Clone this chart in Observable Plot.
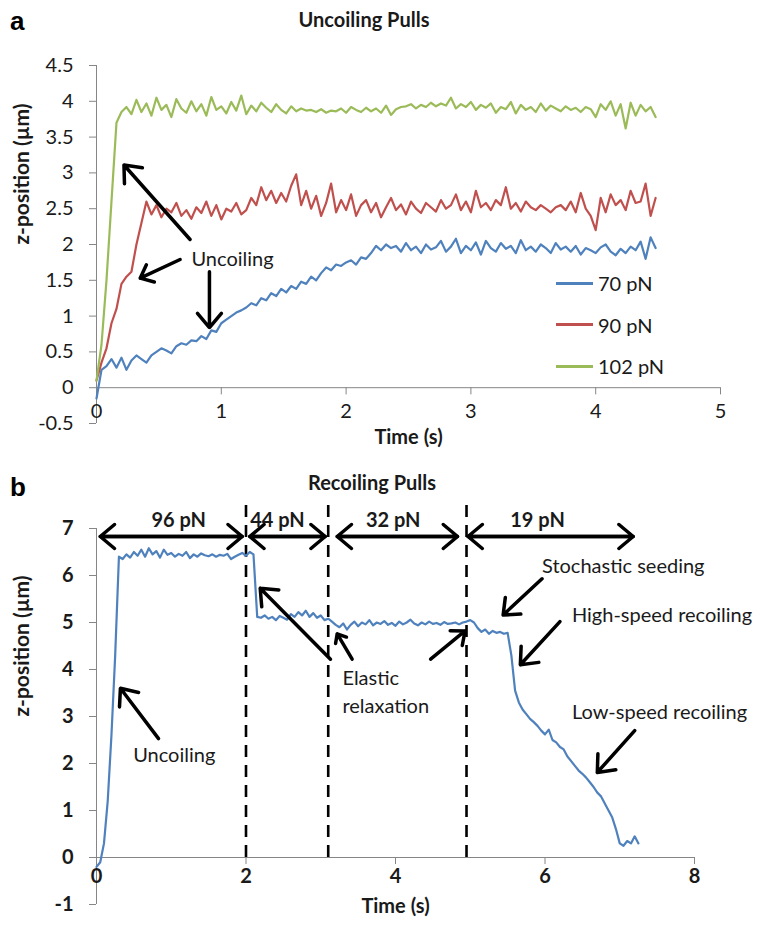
<!DOCTYPE html>
<html><head><meta charset="utf-8">
<script src="https://cdn.jsdelivr.net/npm/d3@7"></script>
<script src="https://cdn.jsdelivr.net/npm/@observablehq/plot@0.6"></script>
<style>
body{margin:0;background:#fff;}
#wrap{position:relative;width:764px;height:932px;background:#fff;overflow:hidden;}
.panel{position:absolute;left:0;}
.lab{position:absolute;font-family:"Liberation Sans",Arial,sans-serif;font-weight:bold;font-size:26px;color:#000;line-height:1;}
.ttl{position:absolute;font-family:Lato,sans-serif;font-weight:bold;font-size:20px;color:#1a1a1a;transform:translate(-50%,-50%);white-space:nowrap;}
.leg{position:absolute;display:flex;align-items:center;font-family:Lato,sans-serif;font-size:20px;color:#1a1a1a;height:24px;}
.leg span.sw{display:inline-block;width:37px;height:3px;margin-right:5px;}
</style></head><body>
<div id="wrap">
  <div id="pa" class="panel" style="top:0"></div>
  <div id="pb" class="panel" style="top:460px"></div>
  <div class="lab" style="left:10px;top:8px">a</div>
  <div class="ttl" style="left:364px;top:19px">Uncoiling Pulls</div>
  <div class="lab" style="left:10px;top:474px">b</div>
  <div class="ttl" style="left:372px;top:482px">Recoiling Pulls</div>
  <div id="legendA"></div>
</div>
<script>
// ---------------- Panel a data ----------------
const seriesNamesA = ["70 pN", "90 pN", "102 pN"];
const seriesColorsA = ["#4F81BD", "#C0504D", "#9BBB59"];
const dtA = 0.04; // sampling interval (s)
const z70 = [
 -0.15,0.25,0.30,0.40,0.28,0.42,0.25,0.38,0.45,0.40,
 0.35,0.45,0.50,0.55,0.52,0.48,0.58,0.62,0.60,0.66,
 0.65,0.72,0.68,0.80,0.78,0.90,0.95,1.00,1.05,1.08,
 1.12,1.18,1.15,1.25,1.22,1.32,1.28,1.38,1.33,1.42,
 1.38,1.48,1.45,1.55,1.50,1.60,1.68,1.64,1.72,1.70,
 1.75,1.78,1.72,1.82,1.80,1.88,1.98,1.92,2.00,1.95,
 1.98,1.90,2.02,1.92,1.97,1.88,2.00,1.93,1.96,2.05,
 1.90,1.97,2.08,1.88,1.98,1.92,2.03,1.86,2.05,1.95,
 1.90,2.02,1.94,1.98,1.88,2.06,1.92,1.97,1.90,2.00,
 1.95,1.88,2.02,1.93,1.97,1.90,1.98,1.86,1.95,1.92,
 1.88,1.96,2.00,1.90,1.85,1.94,1.88,1.97,1.92,2.04,
 1.80,2.10,1.95];
const z90 = [
 0.10,0.35,0.55,0.90,1.10,1.45,1.55,1.62,2.00,2.30,
 2.60,2.42,2.55,2.38,2.50,2.45,2.58,2.40,2.48,2.36,
 2.52,2.44,2.60,2.40,2.55,2.35,2.50,2.46,2.58,2.42,
 2.48,2.65,2.55,2.80,2.62,2.75,2.58,2.72,2.60,2.82,
 2.98,2.55,2.75,2.50,2.68,2.40,2.58,2.85,2.45,2.62,
 2.48,2.70,2.40,2.55,2.62,2.45,2.58,2.38,2.52,2.65,
 2.48,2.56,2.42,2.60,2.50,2.44,2.58,2.52,2.46,2.62,
 2.50,2.55,2.70,2.48,2.60,2.45,2.75,2.52,2.58,2.48,
 2.62,2.55,2.80,2.50,2.58,2.46,2.60,2.52,2.48,2.55,
 2.50,2.45,2.52,2.55,2.48,2.60,2.45,2.72,2.50,2.40,
 2.20,2.65,2.45,2.70,2.55,2.62,2.48,2.75,2.58,2.60,
 2.85,2.40,2.65];
const z102 = [
 0.10,0.60,1.50,2.60,3.70,3.85,3.92,3.82,4.02,3.85,
 3.97,3.80,4.05,3.88,3.95,3.78,4.03,3.90,3.84,4.00,
 3.86,3.96,3.80,4.06,3.88,3.93,3.83,3.99,3.87,4.08,
 3.82,3.94,3.86,3.98,3.91,3.85,3.96,3.88,3.83,3.93,
 3.86,3.90,3.87,3.88,3.85,3.89,3.84,3.87,3.86,3.90,
 3.84,3.92,3.88,3.85,3.91,3.86,3.90,3.84,3.94,3.81,
 3.89,3.92,3.93,3.96,3.90,3.95,3.92,3.98,3.93,3.97,
 3.94,4.05,3.90,3.96,3.92,3.99,3.88,3.95,3.91,3.97,
 3.84,3.92,3.89,3.99,3.83,3.95,3.88,3.92,3.85,3.97,
 3.87,3.94,3.90,3.86,3.93,3.88,3.91,3.85,3.92,3.89,
 3.78,3.96,3.88,4.00,3.80,3.96,3.62,3.98,3.80,3.95,
 3.86,3.92,3.78];
const xTicksA = [0, 1, 2, 3, 4, 5];
const yTicksA = [-0.5, 0, 0.5, 1, 1.5, 2, 2.5, 3, 3.5, 4, 4.5];
const annotTextA = [{text: "Uncoiling", t: 1.09, z: 1.79}];
const annotArrowsA = [
  {t1: 0.75, z1: 2.07, t2: 0.22, z2: 3.11},
  {t1: 0.67, z1: 1.79, t2: 0.35, z2: 1.53},
  {t1: 0.905, z1: 1.62, t2: 0.905, z2: 0.84}
];

// ---------------- Panel b data ----------------
const dtB = 0.05;
const zRecoil = [
 -0.20,-0.10,0.30,1.20,2.60,4.30,6.40,
 6.35,6.45,6.38,6.50,6.42,6.55,6.40,6.58,6.45,6.52,
 6.38,6.55,6.44,6.48,6.40,6.46,6.42,6.50,6.37,6.45,
 6.40,6.47,6.43,6.41,6.45,6.40,6.44,6.42,6.46,6.35,
 6.40,6.44,6.48,6.42,6.50,
 6.45,5.12,
 5.10,5.15,5.08,5.12,5.05,5.14,5.10,5.06,5.18,5.12,
 5.22,5.15,5.25,5.12,5.20,5.10,5.15,5.05,5.08,
 5.02,4.95,4.90,4.98,4.85,4.95,5.02,4.92,5.00,4.96,
 5.05,4.94,5.00,4.97,5.03,4.95,4.99,4.93,5.02,4.96,
 5.00,5.06,4.98,4.94,5.00,4.96,5.02,4.97,4.99,4.95,
 5.01,4.97,4.98,5.00,4.96,5.00,5.02,
 5.05,5.00,4.88,4.80,4.85,4.76,4.82,4.78,4.80,4.76,4.78,
 4.30,3.55,3.30,3.15,3.05,2.95,2.88,2.80,2.70,2.62,
 2.72,2.50,2.45,2.35,2.30,2.15,2.05,1.95,1.85,1.78,
 1.70,1.60,1.50,1.38,1.30,1.15,1.00,0.85,0.60,0.30,
 0.25,0.35,0.30,0.45,0.30];
const xTicksB = [0, 2, 4, 6, 8];
const yTicksB = [-1, 0, 1, 2, 3, 4, 5, 6, 7];
const switchTimes = [2.0, 3.1, 4.95];
const forceSegments = [
  {label: "96 pN", t1: 0.05, t2: 1.95, tl: 1.10},
  {label: "44 pN", t1: 2.05, t2: 3.06, tl: 2.42},
  {label: "32 pN", t1: 3.22, t2: 4.83, tl: 3.97},
  {label: "19 pN", t1: 4.97, t2: 7.18, tl: 5.90}
];
const annotTextB = [
  {text: "Uncoiling", t: 1.04, z: 2.17, anchor: "middle"},
  {text: "Elastic", t: 3.29, z: 3.81, anchor: "start"},
  {text: "relaxation", t: 3.29, z: 3.21, anchor: "start"},
  {text: "Stochastic seeding", t: 5.96, z: 6.19, anchor: "start"},
  {text: "High-speed recoiling", t: 6.36, z: 5.15, anchor: "start"},
  {text: "Low-speed recoiling", t: 6.36, z: 3.09, anchor: "start"}
];
const annotArrowsB = [
  {t1: 0.83, z1: 2.53, t2: 0.32, z2: 3.60},
  {t1: 3.13, z1: 4.22, t2: 2.19, z2: 5.73},
  {t1: 3.42, z1: 4.22, t2: 3.22, z2: 4.76},
  {t1: 4.47, z1: 4.22, t2: 4.93, z2: 4.82},
  {t1: 5.96, z1: 5.93, t2: 5.44, z2: 5.16},
  {t1: 6.20, z1: 5.02, t2: 5.67, z2: 4.10},
  {t1: 7.20, z1: 2.70, t2: 6.70, z2: 1.81}
];

// ---------------- build ----------------
const gray = "#868686";
const ink = "#1a1a1a";
const rowsA = [z70, z90, z102].flatMap((arr, k) =>
  arr.map((z, i) => ({t: i * dtA, z, name: seriesNamesA[k]})));
const rowsB = zRecoil.map((z, i) => ({t: i * dtB, z}));

const baseStyle = {fontFamily: "Lato, sans-serif", fontSize: "20px", color: ink, background: "white", overflow: "visible"};
const arrowStyle = {stroke: "#000", strokeWidth: 3.5, headLength: 8, headAngle: 80};

const plotA = Plot.plot({
  width: 764, height: 460,
  marginTop: 65, marginBottom: 37, marginLeft: 96, marginRight: 44,
  style: baseStyle,
  x: {domain: [0, 5]},
  y: {domain: [-0.5, 4.5]},
  color: {domain: seriesNamesA, range: seriesColorsA},
  marks: [
    Plot.ruleX([0], {y1: -0.5, y2: 4.5, stroke: gray}),
    Plot.ruleY([0], {x1: 0, x2: 5, stroke: gray}),
    Plot.ruleX(xTicksA, {x: d => d, y1: 0, y2: -0.1, stroke: gray}),
    Plot.axisY(yTicksA, {anchor: "left", tickSize: 7, tickPadding: 16, stroke: gray, fill: ink, tickFormat: d => String(d), label: null}),
    Plot.axisX(xTicksA, {anchor: "bottom", tickSize: 0, tickPadding: -20, fill: ink, tickFormat: d => String(d), label: null}),
    Plot.text(["Time (s)"], {frameAnchor: "bottom", dy: 20, fontWeight: "bold", fill: ink}),
    Plot.text(["z-position (µm)"], {frameAnchor: "left", rotate: -90, dx: -74, fontWeight: "bold", fontSize: 21, fill: ink}),
    Plot.line(rowsA, {x: "t", y: "z", stroke: "name", z: "name", strokeWidth: 2.2}),
    Plot.arrow(annotArrowsA, {x1: "t1", y1: "z1", x2: "t2", y2: "z2", ...arrowStyle}),
    Plot.text(annotTextA, {x: "t", y: "z", text: "text", fill: ink, fontSize: 20})
  ]
});
document.getElementById("pa").appendChild(plotA);

// HTML legend for panel a
const legendA = document.getElementById("legendA");
seriesNamesA.forEach((n, i) => {
  const row = document.createElement("div");
  row.className = "leg";
  row.style.left = "556px";
  row.style.top = (271 + i * 41.5) + "px";
  const sw = document.createElement("span");
  sw.className = "sw";
  sw.style.background = seriesColorsA[i];
  row.appendChild(sw);
  row.appendChild(document.createTextNode(n));
  legendA.appendChild(row);
});

const plotB = Plot.plot({
  width: 764, height: 472,
  marginTop: 68, marginBottom: 28, marginLeft: 96, marginRight: 70,
  style: baseStyle,
  x: {domain: [0, 8]},
  y: {domain: [-1, 7]},
  marks: [
    Plot.ruleX([0], {y1: -1, y2: 7, stroke: gray}),
    Plot.ruleY([0], {x1: 0, x2: 8, stroke: gray}),
    Plot.ruleX(xTicksB, {x: d => d, y1: 0, y2: -0.15, stroke: gray}),
    Plot.axisY(yTicksB, {anchor: "left", tickSize: 7, tickPadding: 16, stroke: gray, fill: ink, fontWeight: "bold", tickFormat: d => String(d), label: null}),
    Plot.axisX(xTicksB, {anchor: "bottom", tickSize: 0, tickPadding: -36, fill: ink, fontWeight: "bold", tickFormat: d => String(d), label: null}),
    Plot.text(["Time (s)"], {frameAnchor: "bottom", dy: 8, fontWeight: "bold", fill: ink}),
    Plot.text(["z-position (µm)"], {frameAnchor: "left", rotate: -90, dx: -74, fontWeight: "bold", fontSize: 21, fill: ink}),
    Plot.ruleX(switchTimes, {x: d => d, y1: 0, y2: 7.55, stroke: "#000", strokeWidth: 2.6, strokeDasharray: "12,8"}),
    Plot.line(rowsB, {x: "t", y: "z", stroke: "#4F81BD", strokeWidth: 2.2}),
    Plot.arrow(forceSegments, {x1: "t1", x2: "t2", y1: () => 6.83, y2: () => 6.83, ...arrowStyle}),
    Plot.arrow(forceSegments, {x1: "t2", x2: "t1", y1: () => 6.83, y2: () => 6.83, ...arrowStyle}),
    Plot.text(forceSegments, {x: "tl", y: () => 7.17, text: "label", fill: ink, fontWeight: "bold", fontSize: 20}),
    Plot.arrow(annotArrowsB, {x1: "t1", y1: "z1", x2: "t2", y2: "z2", ...arrowStyle}),
    Plot.text(annotTextB.filter(d => d.anchor === "middle"), {x: "t", y: "z", text: "text", textAnchor: "middle", fill: ink, fontSize: 20}),
    Plot.text(annotTextB.filter(d => d.anchor === "start"), {x: "t", y: "z", text: "text", textAnchor: "start", fill: ink, fontSize: 20})
  ]
});
document.getElementById("pb").appendChild(plotB);
</script>
</body></html>
